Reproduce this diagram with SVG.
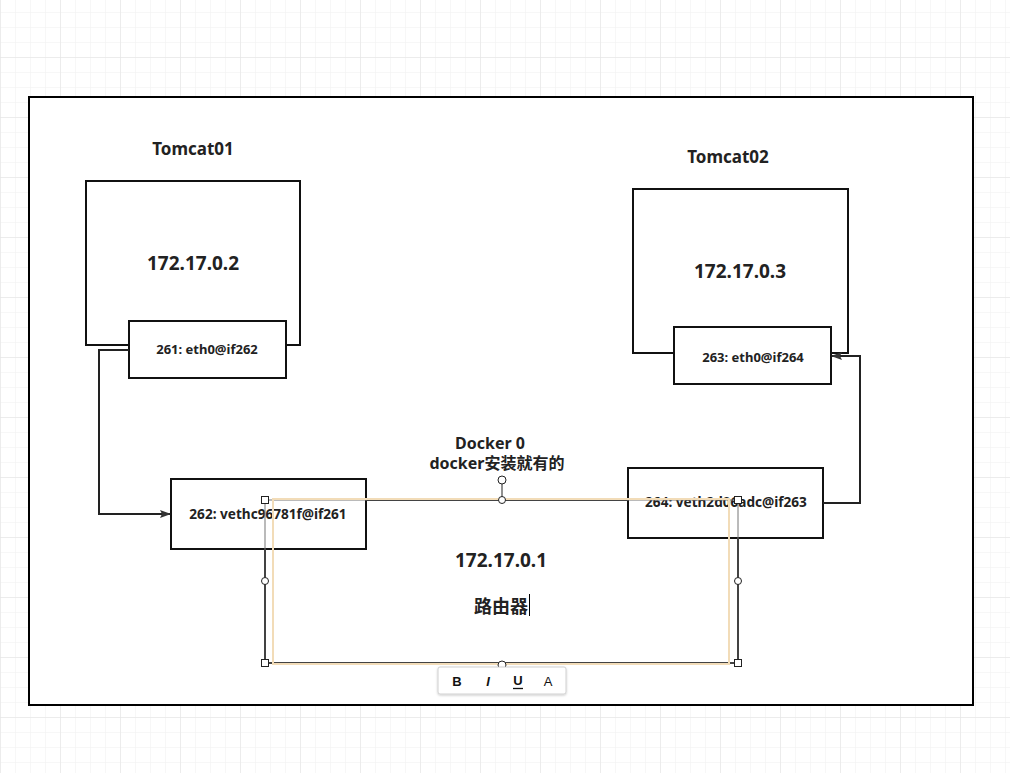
<svg xmlns="http://www.w3.org/2000/svg" width="1010" height="773" viewBox="0 0 1010 773">
<defs>
<pattern id="minor" x="0" y="12" width="15" height="15" patternUnits="userSpaceOnUse">
<path d="M0 0H15M0 0V15" fill="none" stroke="#efefef" stroke-width="1"/>
</pattern>
<pattern id="major" x="0" y="-3" width="60" height="60" patternUnits="userSpaceOnUse">
<path d="M0 0H60M0 0V60" fill="none" stroke="#e2e2e2" stroke-width="1"/>
</pattern>
<marker id="arr" markerWidth="11" markerHeight="8" refX="10" refY="4" orient="auto" markerUnits="userSpaceOnUse">
<path d="M0 0L11 4L0 8L2 4Z" fill="#333"/>
</marker>
<filter id="sh" x="-10%" y="-20%" width="120%" height="160%">
<feDropShadow dx="0" dy="1" stdDeviation="1.2" flood-color="#000" flood-opacity="0.2"/>
</filter>
</defs>
<style>
.box{fill:#fff;stroke:#111;stroke-width:2}
.t{font-family:"Noto Sans","Noto Sans CJK SC",sans-serif;font-weight:bold;fill:#222;text-anchor:middle}
.title{font-size:17px}
.ip{font-size:19px}
.port{font-size:13px}
.wide{font-size:13.6px}
.conn{fill:none;stroke:#222;stroke-width:2}
.h{fill:#fff;stroke:#222;stroke-width:1}
.tb{font-family:"Liberation Sans",sans-serif;font-size:13px;fill:#111;text-anchor:middle}
</style>
<rect width="1010" height="773" fill="#fff"/>
<rect width="1010" height="773" fill="url(#minor)"/>
<rect width="1010" height="773" fill="url(#major)"/>
<rect x="29" y="97" width="944" height="608" fill="#fff" stroke="#000" stroke-width="2"/>

<g id="docker0">
<rect x="265" y="500" width="473" height="163" class="box"/>
<text class="t" x="490" y="449" font-size="16">Docker 0</text>
<text class="t" x="497" y="469" font-size="16">docker安装就有的</text>
<text class="t ip" x="501" y="567">172.17.0.1</text>
<text class="t" x="501" y="613" font-size="18">路由器</text>
<line x1="529.5" y1="594" x2="529.5" y2="616" stroke="#000" stroke-width="1"/>
</g>

<g id="tomcat01">
<text class="t title" x="193" y="155">Tomcat01</text>
<rect x="86" y="181" width="214" height="164" class="box"/>
<text class="t ip" x="193" y="270">172.17.0.2</text>
</g>
<g id="eth261">
<rect x="129" y="321" width="157" height="57" class="box"/>
<text class="t port" x="207" y="354">261: eth0@if262</text>
</g>

<g id="tomcat02">
<text class="t title" x="728" y="163">Tomcat02</text>
<rect x="633" y="189" width="215" height="164" class="box"/>
<text class="t ip" x="740" y="278">172.17.0.3</text>
</g>
<g id="eth263">
<rect x="674" y="327" width="157" height="57" class="box"/>
<text class="t port" x="753" y="362">263: eth0@if264</text>
</g>

<g id="veth262">
<rect x="171" y="479" width="195" height="70" class="box"/>
<text class="t wide" x="268" y="519">262: vethc96781f@if261</text>
</g>
<g id="veth264">
<rect x="628" y="468" width="195" height="70" class="box"/>
<text class="t wide" x="726" y="507">264: veth2d06adc@if263</text>
</g>

<g id="connectors">
<path class="conn" d="M129 350H99V514H170" marker-end="url(#arr)"/>
<path class="conn" d="M823 503H860V356H832" marker-end="url(#arr)"/>
</g>

<g id="selection">
<rect x="265" y="500" width="473" height="163" fill="none" stroke="#777" stroke-width="1"/>
<rect x="273" y="499" width="456" height="165" fill="none" stroke="#f2dcb8" stroke-width="2"/>
<line x1="502" y1="484" x2="502" y2="499" stroke="#222" stroke-width="1"/>
<circle cx="502" cy="480" r="4" class="h"/>
<circle cx="502" cy="500" r="3.5" class="h"/>
<circle cx="265" cy="581" r="3.5" class="h"/>
<circle cx="738" cy="581" r="3.5" class="h"/>
<circle cx="502" cy="665" r="4" class="h"/>
<rect x="261.5" y="496.5" width="7" height="7" class="h"/>
<rect x="734.5" y="496.5" width="7" height="7" class="h"/>
<rect x="261.5" y="659.5" width="7" height="7" class="h"/>
<rect x="734.5" y="659.5" width="7" height="7" class="h"/>
</g>

<g id="toolbar">
<rect x="438" y="667" width="128" height="27" rx="2" fill="#fff" stroke="#d0d0d0" stroke-width="1" filter="url(#sh)"/>
<text class="tb" x="457" y="686" font-weight="bold">B</text>
<text class="tb" x="488" y="686" font-weight="bold" font-style="italic">I</text>
<text class="tb" x="518" y="685" font-weight="bold">U</text>
<line x1="513" y1="688.5" x2="523" y2="688.5" stroke="#111" stroke-width="1.3"/>
<text class="tb" x="548" y="686">A</text>
</g>
</svg>
